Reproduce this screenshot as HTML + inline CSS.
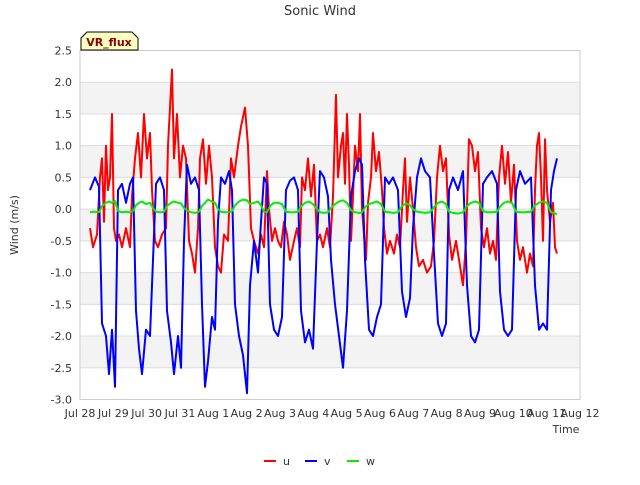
<!DOCTYPE html>
<html><head><meta charset="utf-8"><style>
body{margin:0;background:#fff;font-family:"Liberation Sans",sans-serif}
svg text{font-family:"DejaVu Sans","Liberation Sans",sans-serif}
</style></head><body>
<svg id="c" width="640" height="480" xmlns="http://www.w3.org/2000/svg">
<text x="320" y="15" text-anchor="middle" font-size="13" fill="#333">Sonic Wind</text>
<g id="grid"></g><g id="axes"></g><g id="series"></g>
<g><path d="M81,50 L81,38 L87,32 L132,32 L138,38 L138,50 Z" fill="#ffffc0" stroke="#000" stroke-width="1"/>
<text x="109" y="46" text-anchor="middle" font-size="11" font-weight="bold" fill="#8b0000">VR_flux</text></g>
<text transform="translate(18,225) rotate(-90)" text-anchor="middle" font-size="11" fill="#333">Wind (m/s)</text>
<text x="566" y="433" text-anchor="middle" font-size="11" fill="#333">Time</text>
<g id="legend"></g>
</svg>
<script>
const xTicks=["Jul 28","Jul 29","Jul 30","Jul 31","Aug 1","Aug 2","Aug 3","Aug 4","Aug 5","Aug 6","Aug 7","Aug 8","Aug 9","Aug 10","Aug 11","Aug 12"];
const yTicks=[2.5,2.0,1.5,1.0,0.5,0.0,-0.5,-1.0,-1.5,-2.0,-2.5,-3.0];
const vTimes=[.30,.45,.57,.66,.78,.87,.96,1.05,1.14,1.26,1.38,1.5,1.59,1.68,1.77,1.86,1.98,2.1,2.19,2.28,2.4,2.52,2.61,2.73,2.82,2.94,3.03,3.12,3.21,3.33,3.45,3.57,3.66,3.75,3.84,3.96,4.05,4.14,4.23,4.35,4.47,4.56,4.65,4.77,4.89,5.01,5.1,5.22,5.34,5.43,5.52,5.61,5.7,5.82,5.94,6.06,6.18,6.3,6.42,6.54,6.63,6.75,6.87,6.99,7.11,7.2,7.32,7.44,7.53,7.65,7.77,7.89,8.01,8.13,8.25,8.37,8.46,8.55,8.67,8.79,8.91,9.03,9.15,9.27,9.39,9.54,9.66,9.78,9.9,9.99,10.11,10.23,10.35,10.5,10.62,10.74,10.86,10.98,11.07,11.19,11.34,11.49,11.61,11.73,11.85,11.97,12.09,12.21,12.36,12.51,12.6,12.72,12.84,12.96,13.08,13.2,13.35,13.53,13.65,13.77,13.89,14.01,14.13,14.22,14.31];
const vVals=[.3,.5,.35,-1.8,-2,-2.6,-1.9,-2.8,.3,.4,.1,.4,.5,-1.6,-2.2,-2.6,-1.9,-2.0,-0.8,.4,.5,.3,-1.6,-2.1,-2.6,-2.0,-2.5,-0.5,.7,.4,.5,.3,-1.5,-2.8,-2.4,-1.7,-1.9,-0.2,.5,.4,.6,.3,-1.5,-2.0,-2.3,-2.9,-1.2,-0.5,-1.0,-0.2,.5,.4,-1.5,-1.9,-2.0,-1.7,.3,.45,.5,.3,-1.6,-2.1,-1.9,-2.2,-0.5,.6,.5,.2,-0.8,-1.5,-2.0,-2.5,-1.6,.2,.6,.8,.7,-0.8,-1.9,-2.0,-1.7,-1.5,.5,.4,.5,.3,-1.3,-1.7,-1.4,-0.3,.5,.8,.6,.5,-0.7,-1.8,-2.0,-1.8,.3,.5,.3,.6,-1.2,-2.0,-2.1,-1.9,.4,.5,.6,.4,-1.3,-1.9,-2.0,-1.9,.3,.6,.4,.5,-1.2,-1.9,-1.8,-1.9,.3,.6,.8];
const wVals=[-.05,-.04,-.05,.05,.1,.12,.1,.13,-.03,-.05,-.04,-.05,-.03,.06,.1,.12,.08,.1,.02,-.04,-.05,-.04,.05,.1,.12,.1,.09,.02,-.02,-.05,-.06,-.04,.05,.1,.15,.12,.1,.0,-.04,-.05,-.05,-.03,.06,.12,.15,.14,.08,.1,.12,.06,-.04,-.05,.05,.1,.1,.08,-.04,-.05,-.05,-.04,.04,.1,.12,.08,.0,-.05,-.06,-.05,.02,.08,.12,.14,.1,-.02,-.05,-.06,-.05,.03,.08,.1,.12,.08,-.04,-.05,-.06,-.05,.05,.09,.06,.0,-.04,-.05,-.06,-.05,.03,.1,.12,.08,-.04,-.06,-.07,-.05,.05,.1,.12,.1,-.03,-.05,-.05,-.04,.04,.1,.12,.1,-.04,-.05,-.05,-.04,.06,.1,.12,.1,-.05,-.06,-.08];
const uTimes=[.30,.39,.51,.60,.66,.72,.78,.84,.90,.96,1.02,1.08,1.17,1.26,1.38,1.50,1.56,1.65,1.74,1.83,1.92,2.01,2.10,2.16,2.25,2.34,2.46,2.58,2.64,2.70,2.76,2.82,2.91,3.00,3.09,3.18,3.27,3.36,3.45,3.54,3.60,3.69,3.78,3.87,3.96,4.05,4.14,4.23,4.32,4.44,4.53,4.62,4.74,4.83,4.95,5.04,5.13,5.22,5.34,5.43,5.52,5.61,5.67,5.76,5.85,5.94,6.03,6.12,6.21,6.30,6.42,6.51,6.60,6.66,6.75,6.84,6.93,7.02,7.11,7.20,7.29,7.41,7.50,7.59,7.68,7.74,7.83,7.89,7.95,8.01,8.07,8.13,8.19,8.25,8.34,8.40,8.46,8.52,8.58,8.64,8.73,8.79,8.88,8.97,9.06,9.12,9.21,9.30,9.42,9.51,9.60,9.69,9.75,9.81,9.90,9.99,10.08,10.17,10.29,10.41,10.53,10.62,10.71,10.80,10.89,10.98,11.07,11.16,11.28,11.40,11.49,11.58,11.67,11.76,11.85,11.94,12.03,12.12,12.21,12.30,12.39,12.48,12.57,12.66,12.75,12.84,12.93,13.02,13.11,13.20,13.29,13.41,13.50,13.59,13.65,13.71,13.77,13.83,13.89,13.95,14.01,14.10,14.19,14.25,14.31];
const uVals=[-.3,-.6,-.4,.5,.8,-.2,1.0,.3,.5,1.5,-.3,-.5,-.4,-.6,-.3,-.6,.2,.8,1.2,.5,1.5,.8,1.2,.3,-.5,-.6,-.4,-.3,1.0,1.6,2.2,.8,1.5,.5,1.0,.8,-.5,-.7,-1.0,-.3,.8,1.1,.4,1.0,.5,-.6,-.9,-1.0,-.4,-.5,.8,.5,1.0,1.3,1.6,1.0,-.3,-.5,-.7,-.4,-.6,.6,0,-.5,-.3,-.5,-.6,-.2,-.4,-.8,-.5,-.3,-.6,.5,.3,.8,.2,.7,-.5,-.4,-.6,-.3,-.6,.2,1.8,.5,1.0,1.2,.4,1.5,.7,-.5,.2,1.0,.6,1.5,0,-.4,-.8,.1,.5,1.2,.6,.9,.3,-.3,-.7,-.5,-.7,-.4,-.6,.3,.8,-.2,.5,0,-.6,-.9,-.8,-1.0,-.9,-.5,.5,1.0,.6,.8,-.4,-.8,-.5,-.9,-1.2,-.5,1.1,1.0,.6,.9,-.3,-.6,-.3,-.7,-.5,-.8,.5,1.0,.4,.9,.1,.7,-.5,-.8,-.6,-1.0,-.7,-.9,.3,1.0,1.2,.5,-.5,1.1,.3,-.2,.1,-.6,-.7];
const X0=80,X1=580,Y0=50.5,Y1=399.5;
const xs=d=>X0+d*(X1-X0)/15;
const ys=v=>Y0+(2.5-v)*(Y1-Y0)/5.5;
const NS="http://www.w3.org/2000/svg";
function mk(tag,attrs,parent){const e=document.createElementNS(NS,tag);for(const k in attrs)e.setAttribute(k,attrs[k]);parent.appendChild(e);return e;}
const grid=document.getElementById('grid'),axes=document.getElementById('axes'),series=document.getElementById('series'),legend=document.getElementById('legend');
for(let i=0;i<yTicks.length-1;i++){
  if(i%2===1){const r=mk('rect',{x:X0,y:ys(yTicks[i]),width:X1-X0,height:ys(yTicks[i+1])-ys(yTicks[i]),fill:'#f3f3f3'},grid);
  
  }
}
yTicks.forEach(v=>{const y=ys(v);
  const l=mk('line',{x1:X0,x2:X1,y1:y,y2:y,stroke:'#dcdcdc','stroke-width':1},grid);
  
  
  const t=mk('text',{x:72,y:y+4,'text-anchor':'end','font-size':11,fill:'#333'},axes);
  t.textContent=v.toFixed(1);
  
  
});
const frame=mk('rect',{x:X0,y:Y0,width:X1-X0,height:Y1-Y0,fill:'none',stroke:'#ccc'},axes);


xTicks.forEach((s,i)=>{const x=xs(i);
  const t=mk('text',{x:x,y:417,'text-anchor':'middle','font-size':11,fill:'#333'},axes);
  t.textContent=s;
  
  
});
function line(ts,vs,color,name){
  const d=ts.map((t,i)=>(i?'L':'M')+xs(t).toFixed(1)+','+ys(vs[i]).toFixed(1)).join('');
  const p=mk('path',{d:d,fill:'none',stroke:color,'stroke-width':2,'stroke-linejoin':'round'},series);
  
  
}
line(uTimes,uVals,'#ff0000','series-u');
line(vTimes,vVals,'#0000ff','series-v');
line(vTimes,wVals,'#00ee00','series-w');
[['u','#ff0000',264],['v','#0000ff',305],['w','#00ee00',347]].forEach(([n,c,x])=>{
  const g=mk('g',{},legend);
  
  
  mk('line',{x1:x,x2:x+12,y1:461,y2:461,stroke:c,'stroke-width':2},g);
  const t=mk('text',{x:x+19,y:465,'font-size':11,fill:'#333'},g);t.textContent=n;
});
</script>
</body></html>
